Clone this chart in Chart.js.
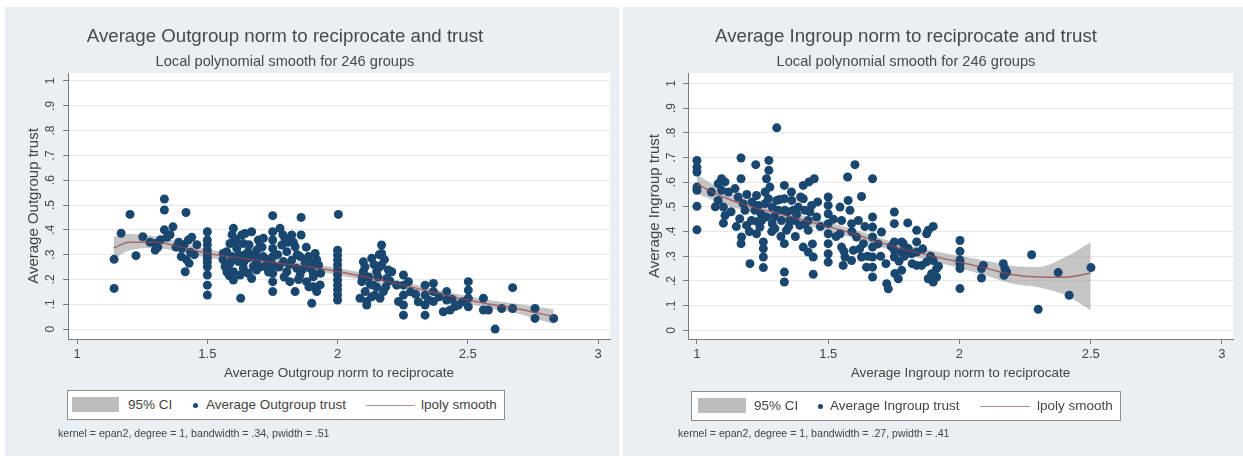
<!DOCTYPE html>
<html>
<head>
<meta charset="utf-8">
<script src="https://cdn.jsdelivr.net/npm/chart.js@4/dist/chart.umd.min.js"></script>
<style>
  html, body { margin: 0; padding: 0; background: #ffffff; }
  body { width: 1243px; height: 456px; position: relative; overflow: hidden;
         font-family: "Liberation Sans", Arial, sans-serif; color: #444; }
  .panel { position: absolute; background: #e9eff2; }
  .panel canvas { display: block; }
  .ttl { position: absolute; white-space: nowrap; transform: translateX(-50%); color: #474750; }
  .legend { position: absolute; background: #ffffff; border: 1px solid #8c8c8c; box-sizing: border-box; }
  .legend .it { position: absolute; top: 0; line-height: 28px; font-size: 13.5px; white-space: nowrap; color: #444; }
  .legend .swatch { position: absolute; background: #bdbdbd; }
  .legend .dot { position: absolute; width: 5px; height: 5px; border-radius: 50%; background: #1a476f; }
  .legend .ln { position: absolute; height: 1.5px; background: #b88a91; }
  .note { position: absolute; font-size: 10.6px; white-space: nowrap; color: #444; }
</style>
</head>
<body>

<div class="panel" style="left:5px;top:7px;width:614px;height:449px"><canvas id="outChart" width="614" height="449"></canvas></div>
<div class="panel" style="left:623px;top:7px;width:620px;height:449px"><canvas id="inChart" width="620" height="449"></canvas></div>

<div class="ttl" style="left:285px;top:25px;font-size:18.7px;line-height:22px">Average Outgroup norm to reciprocate and trust</div>
<div class="ttl" style="left:285px;top:53px;font-size:14.6px;line-height:17px">Local polynomial smooth for 246 groups</div>
<div class="ttl" style="left:906px;top:25px;font-size:18.7px;line-height:22px">Average Ingroup norm to reciprocate and trust</div>
<div class="ttl" style="left:906px;top:53px;font-size:14.6px;line-height:17px">Local polynomial smooth for 246 groups</div>

<div class="legend" style="left:67px;top:390px;width:438px;height:30px">
  <div class="swatch" style="left:4px;top:6px;width:47px;height:15px"></div>
  <div class="it" style="left:60px">95% CI</div>
  <div class="dot" style="left:125px;top:11.5px"></div>
  <div class="it" style="left:138px">Average Outgroup trust</div>
  <div class="ln" style="left:298px;top:13.5px;width:49px"></div>
  <div class="it" style="left:353px">lpoly smooth</div>
</div>
<div class="legend" style="left:691px;top:391px;width:430px;height:30px">
  <div class="swatch" style="left:6px;top:6px;width:48px;height:15px"></div>
  <div class="it" style="left:62px">95% CI</div>
  <div class="dot" style="left:126px;top:11.5px"></div>
  <div class="it" style="left:138px">Average Ingroup trust</div>
  <div class="ln" style="left:288px;top:13.5px;width:50px"></div>
  <div class="it" style="left:345px">lpoly smooth</div>
</div>

<div class="note" style="left:58px;top:427px">kernel = epan2, degree = 1, bandwidth = .34, pwidth = .51</div>
<div class="note" style="left:678px;top:427px">kernel = epan2, degree = 1, bandwidth = .27, pwidth = .41</div>

<script>
// ---- axis ticks ----
const xTicks = [1, 1.5, 2, 2.5, 3];
const yTicks = [0, 0.1, 0.2, 0.3, 0.4, 0.5, 0.6, 0.7, 0.8, 0.9, 1];

// ---- outgroup: group averages (norm to reciprocate, trust) ----
const outNorm = [
  1.142,1.142,1.169,1.203,1.226,1.252,1.300,1.300,1.310,1.335,1.335,1.335,1.345,1.357,1.368,1.320,
  1.418,1.402,1.427,1.400,1.415,1.420,1.410,1.435,1.440,1.430,1.390,1.380,1.450,1.460,1.280,
  1.500,1.500,1.500,1.500,1.500,1.500,1.500,1.500,1.500,1.500,1.500,
  1.561,1.568,1.587,1.600,1.632,1.670,1.587,1.613,1.638,1.657,1.594,1.619,1.651,1.677,1.581,1.600,
  1.626,1.657,1.690,1.600,1.628,1.696,1.715,1.574,1.690,1.638,1.670,1.702,1.715,1.689,1.721,1.610,1.645,
  1.560,1.575,1.605,1.620,1.640,1.660,1.665,1.685,1.700,1.710,1.595,1.585,1.645,1.730,1.735,
  1.751,1.751,1.751,1.751,1.751,1.751,1.751,1.751,1.751,
  1.779,1.798,1.824,1.860,1.860,1.805,1.837,1.792,1.824,1.856,1.805,1.843,1.817,1.837,1.786,1.856,1.770,1.830,
  1.775,1.790,1.810,1.815,1.845,1.850,1.865,1.880,1.795,
  1.888,1.914,1.927,1.895,1.907,1.881,1.933,1.901,1.920,1.907,1.907,1.907,1.875,1.920,1.935,1.890,
  2.003,2.000,2.000,2.000,2.000,2.000,2.000,2.000,2.000,2.000,2.000,2.000,
  2.099,2.099,2.093,2.106,2.112,2.086,2.137,2.150,2.169,2.169,2.169,2.176,2.189,2.208,2.144,2.131,
  2.163,2.131,2.150,2.163,2.195,2.112,2.120,2.180,2.105,2.125,2.140,2.155,2.185,2.200,2.095,2.160,
  2.253,2.253,2.253,2.253,2.253,2.234,2.272,2.227,2.280,2.300,2.310,
  2.336,2.336,2.336,2.336,2.368,2.368,2.368,2.349,2.390,
  2.419,2.419,2.406,2.432,2.451,2.464,2.440,2.480,
  2.502,2.502,2.502,2.502,2.560,2.560,2.579,
  2.605,2.630,2.672,2.672,2.758,2.758,2.830
];
const outTrust = [
  0.281,0.164,0.386,0.462,0.296,0.372,0.318,0.345,0.330,0.524,0.480,0.400,0.370,0.380,0.412,0.360,
  0.470,0.325,0.359,0.292,0.231,0.280,0.340,0.310,0.370,0.265,0.350,0.330,0.300,0.340,0.350,
  0.392,0.359,0.340,0.319,0.300,0.285,0.270,0.251,0.218,0.177,0.137,
  0.305,0.252,0.265,0.406,0.379,0.392,0.345,0.325,0.345,0.312,0.292,0.272,0.285,0.252,0.258,0.231,
  0.218,0.225,0.272,0.198,0.124,0.359,0.366,0.312,0.319,0.245,0.204,0.332,0.292,0.238,0.252,0.360,0.300,
  0.280,0.230,0.350,0.300,0.270,0.340,0.290,0.300,0.250,0.330,0.380,0.215,0.385,0.280,0.230,
  0.457,0.392,0.359,0.325,0.292,0.258,0.225,0.191,0.151,
  0.406,0.366,0.379,0.450,0.379,0.312,0.332,0.272,0.278,0.292,0.231,0.245,0.191,0.151,0.339,0.218,0.300,0.350,
  0.250,0.380,0.350,0.260,0.300,0.200,0.240,0.330,0.210,
  0.292,0.305,0.258,0.245,0.211,0.191,0.178,0.104,0.151,0.265,0.225,0.171,0.270,0.280,0.225,0.170,
  0.462,0.318,0.298,0.278,0.258,0.238,0.218,0.198,0.178,0.158,0.138,0.117,
  0.271,0.231,0.191,0.151,0.111,0.124,0.177,0.231,0.339,0.305,0.258,0.151,0.204,0.231,0.137,0.285,
  0.124,0.130,0.170,0.251,0.238,0.097,0.210,0.280,0.250,0.180,0.260,0.210,0.170,0.195,0.210,0.300,
  0.218,0.177,0.137,0.097,0.056,0.111,0.191,0.177,0.150,0.140,0.110,
  0.177,0.137,0.097,0.056,0.184,0.151,0.111,0.117,0.130,
  0.151,0.117,0.070,0.077,0.091,0.097,0.120,0.110,
  0.191,0.157,0.124,0.090,0.124,0.077,0.077,
  0.000,0.083,0.167,0.083,0.083,0.043,0.043
];

// ---- outgroup: local polynomial fit and 95% CI ----
const outGridX = [1.14,1.2,1.3,1.4,1.5,1.6,1.7,1.8,1.9,2.0,2.1,2.2,2.3,2.4,2.5,2.6,2.7,2.83];
const outFit   = [0.327,0.350,0.350,0.330,0.305,0.290,0.276,0.262,0.249,0.232,0.212,0.190,0.165,0.140,0.117,0.097,0.080,0.050];
const outLo    = [0.282,0.317,0.327,0.311,0.288,0.275,0.262,0.248,0.235,0.218,0.198,0.176,0.151,0.126,0.102,0.080,0.060,0.020];
const outHi    = [0.372,0.383,0.373,0.349,0.322,0.305,0.290,0.276,0.263,0.246,0.226,0.204,0.179,0.154,0.132,0.114,0.100,0.080];

// ---- ingroup: group averages (norm to reciprocate, trust) ----
const inNorm = [
  1.000,1.000,1.000,1.000,1.000,1.000,1.000,
  1.094,1.081,1.107,1.094,1.081,1.101,1.107,1.101,1.055,1.070,
  1.145,1.168,1.168,1.157,1.176,1.163,1.183,1.189,1.170,1.168,1.208,1.202,1.120,1.130,1.150,1.190,1.200,1.210,
  1.224,1.227,1.221,1.234,1.240,1.227,1.253,1.253,1.253,1.253,1.230,1.245,
  1.274,1.274,1.265,1.278,1.272,1.259,1.287,1.265,1.287,1.246,1.260,1.285,1.295,
  1.304,1.304,1.310,1.297,1.315,1.320,
  1.333,1.333,1.335,1.322,1.341,1.333,1.333,1.333,1.345,1.350,
  1.361,1.367,1.373,1.386,1.392,1.354,1.360,1.375,1.380,1.395,
  1.405,1.405,1.427,1.447,1.411,1.424,1.437,1.456,1.405,1.424,1.443,1.443,1.424,1.410,1.430,1.440,1.460,1.470,
  1.500,1.500,1.500,1.500,1.500,1.500,1.500,1.500,
  1.545,1.551,1.545,1.551,1.564,1.557,1.520,1.530,1.560,
  1.574,1.576,1.583,1.589,1.602,1.608,1.596,1.589,1.590,
  1.627,1.615,1.634,1.627,1.646,1.620,1.640,1.650,
  1.669,1.669,1.669,1.669,1.669,1.669,1.669,1.669,
  1.703,1.723,1.729,1.690,1.700,1.720,1.740,
  1.752,1.752,1.752,1.752,1.752,1.754,1.767,1.770,1.790,
  1.803,1.786,1.805,1.818,1.820,1.860,1.890,1.920,
  1.837,1.837,1.837,1.881,1.900,1.875,1.780,1.780,1.780,1.837,1.875,1.900,1.913,1.894,1.913,1.881,1.900,1.856,
  2.002,2.002,2.002,2.002,2.002,2.002,
  2.084,2.084,2.091,
  2.167,2.173,2.180,2.170,
  2.275,2.300,2.376,2.418,2.501
];
const inTrust = [
  0.688,0.661,0.641,0.580,0.567,0.502,0.407,
  0.614,0.594,0.601,0.567,0.526,0.499,0.465,0.434,0.560,0.500,
  0.574,0.698,0.614,0.540,0.513,0.452,0.486,0.425,0.378,0.351,0.445,0.270,0.560,0.480,0.420,0.550,0.400,0.520,
  0.671,0.546,0.486,0.506,0.418,0.391,0.297,0.254,0.358,0.331,0.440,0.470,
  0.688,0.648,0.614,0.580,0.533,0.513,0.499,0.459,0.432,0.445,0.560,0.400,0.460,
  0.820,0.526,0.486,0.412,0.530,0.380,
  0.587,0.533,0.486,0.445,0.405,0.351,0.236,0.196,0.480,0.420,
  0.526,0.486,0.445,0.499,0.425,0.445,0.560,0.380,0.470,0.540,
  0.533,0.587,0.601,0.614,0.486,0.445,0.506,0.459,0.337,0.317,0.297,0.227,0.405,0.430,0.480,0.350,0.520,0.420,
  0.540,0.506,0.472,0.432,0.391,0.351,0.310,0.276,
  0.499,0.445,0.391,0.337,0.297,0.263,0.450,0.380,0.320,
  0.621,0.526,0.486,0.432,0.671,0.378,0.324,0.283,0.400,
  0.542,0.445,0.351,0.297,0.256,0.330,0.420,0.300,
  0.614,0.459,0.418,0.378,0.337,0.297,0.256,0.216,
  0.398,0.189,0.168,0.350,0.300,0.270,0.340,
  0.479,0.432,0.358,0.324,0.297,0.230,0.209,0.280,0.300,
  0.435,0.351,0.331,0.310,0.270,0.330,0.300,0.260,
  0.405,0.358,0.317,0.405,0.421,0.391,0.358,0.317,0.243,0.263,0.277,0.283,0.250,0.229,0.216,0.209,0.196,0.263,
  0.364,0.320,0.285,0.270,0.250,0.169,
  0.250,0.212,0.263,
  0.270,0.250,0.236,0.223,
  0.306,0.085,0.234,0.142,0.254
];

// ---- ingroup: local polynomial fit and 95% CI ----
const inGridX = [1.0,1.1,1.2,1.3,1.4,1.5,1.6,1.7,1.8,1.9,2.0,2.1,2.2,2.3,2.4,2.5];
const inFit   = [0.592,0.540,0.502,0.475,0.448,0.420,0.390,0.355,0.325,0.300,0.277,0.252,0.226,0.216,0.215,0.232];
const inLo    = [0.553,0.512,0.480,0.456,0.430,0.402,0.372,0.337,0.306,0.279,0.252,0.222,0.190,0.175,0.145,0.081];
const inHi    = [0.630,0.568,0.524,0.494,0.466,0.438,0.408,0.373,0.344,0.321,0.302,0.282,0.262,0.257,0.295,0.357];

const FONT = "'Liberation Sans', Arial, sans-serif";
const pts = (xs, ys) => xs.map((x, i) => ({ x: x, y: ys[i] }));
const yLabel = v => (v === 0 ? '0' : v === 1 ? '1' : '.' + Math.round(v * 10));

// white plot region behind the marks
const plotRegion = {
  id: 'plotRegion',
  beforeDraw(chart) {
    const a = chart.chartArea, ctx = chart.ctx;
    ctx.save();
    ctx.fillStyle = '#ffffff';
    ctx.fillRect(a.left, a.top, a.right - a.left, a.bottom - a.top);
    ctx.restore();
  }
};

function makeChart(id, o) {
  return new Chart(document.getElementById(id), {
    type: 'scatter',
    data: {
      datasets: [
        { type: 'line', data: pts(o.gx, o.fit), borderColor: 'rgba(150,70,80,0.75)', borderWidth: 1.4,
          pointRadius: 0, fill: false, cubicInterpolationMode: 'monotone', order: 0 },
        { type: 'scatter', data: pts(o.x, o.y), backgroundColor: '#1a476f', borderColor: '#1a476f',
          borderWidth: 0, pointRadius: 4.5, order: 1 },
        { type: 'line', data: pts(o.gx, o.hi), borderWidth: 0, borderColor: 'rgba(0,0,0,0)',
          backgroundColor: 'rgba(140,140,140,0.5)', pointRadius: 0, fill: { target: 3 },
          cubicInterpolationMode: 'monotone', order: 2 },
        { type: 'line', data: pts(o.gx, o.lo), borderWidth: 0, borderColor: 'rgba(0,0,0,0)',
          pointRadius: 0, fill: false, cubicInterpolationMode: 'monotone', order: 3 }
      ]
    },
    options: {
      responsive: false,
      animation: false,
      events: [],
      layout: { padding: { top: 66, right: o.padRight, bottom: 72, left: 0 } },
      plugins: { legend: { display: false }, tooltip: { enabled: false }, title: { display: false } },
      scales: {
        x: {
          type: 'linear', min: o.xMin, max: o.xMax,
          afterBuildTicks: s => { s.ticks = xTicks.map(v => ({ value: v })); },
          afterFit: s => { s.height = 45; },
          ticks: { autoSkip: false, padding: 3, color: '#444', font: { family: FONT, size: 13 },
                   callback: v => String(v), maxRotation: 0 },
          grid: { drawOnChartArea: false, tickLength: 5, tickColor: '#7a7a7a' },
          border: { color: '#7a7a7a', width: 1 },
          title: { display: true, text: o.xTitle, color: '#444', font: { family: FONT, size: 13.5 },
                   padding: { top: 0, bottom: 3 } }
        },
        y: {
          type: 'linear', min: o.yMin, max: o.yMax,
          afterBuildTicks: s => { s.ticks = yTicks.map(v => ({ value: v })); },
          afterFit: s => { s.width = o.yWidth; },
          ticks: { autoSkip: false, minRotation: 90, maxRotation: 90, crossAlign: 'center',
                   padding: o.tickPad, color: '#444', font: { family: FONT, size: 12 }, callback: yLabel },
          grid: { color: '#e3eaee', lineWidth: 1, tickLength: 5, tickColor: '#7a7a7a' },
          border: { color: '#7a7a7a', width: 1 },
          title: { display: true, text: o.yTitle, color: '#444', font: { family: FONT, size: 15 },
                   padding: { top: o.titlePad, bottom: 0 } }
        }
      }
    },
    plugins: [plotRegion]
  });
}

makeChart('outChart', {
  x: outNorm, y: outTrust, gx: outGridX, fit: outFit, lo: outLo, hi: outHi,
  xMin: 0.965, xMax: 3.046, yMin: -0.04, yMax: 1.032,
  padRight: 9, yWidth: 63, tickPad: 7, titlePad: 20,
  xTitle: 'Average Outgroup norm to reciprocate', yTitle: 'Average Outgroup trust'
});
makeChart('inChart', {
  x: inNorm, y: inTrust, gx: inGridX, fit: inFit, lo: inLo, hi: inHi,
  xMin: 0.966, xMax: 3.042, yMin: -0.035, yMax: 1.042,
  padRight: 10, yWidth: 65, tickPad: 6.5, titlePad: 22.5,
  xTitle: 'Average Ingroup norm to reciprocate', yTitle: 'Average Ingroup trust'
});
</script>
</body>
</html>
